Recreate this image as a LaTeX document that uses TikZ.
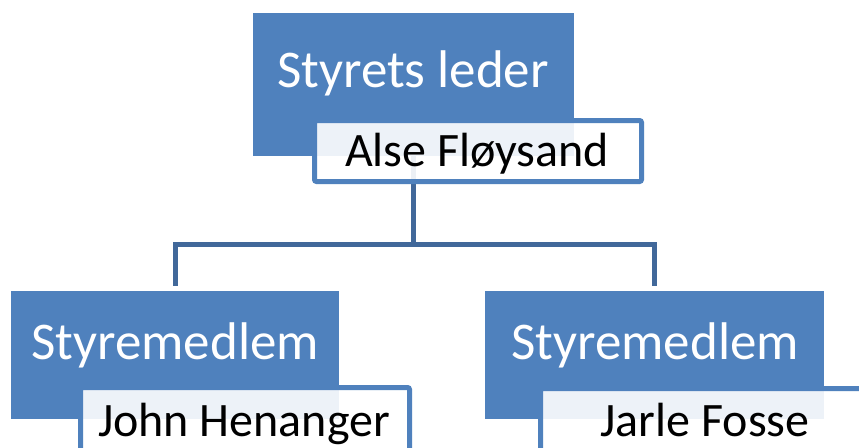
\documentclass[tikz,border=0pt]{standalone}
\usepackage{fontspec}
\setmainfont{Carlito}
\definecolor{boxblue}{HTML}{4F81BD}
\definecolor{connblue}{HTML}{41689A}
\tikzset{
  rolebox/.style={rectangle, draw=none, fill=boxblue, inner sep=0pt},
  namebox/.style={rectangle, draw=boxblue, line width=5pt, fill=white, fill opacity=0.9, draw opacity=1, rounded corners=2pt, inner sep=0pt},
  roletext/.style={anchor=base, text=white, font=\fontsize{53}{60}\selectfont, inner sep=0pt},
  nametext/.style={anchor=base, text=black, font=\fontsize{48}{56}\selectfont, inner sep=0pt},
  conn/.style={draw=connblue, line width=5pt, line join=miter}
}
\begin{document}
\begin{tikzpicture}[x=1pt, y=-1pt]
\clip (0,0) rectangle (859,447);
\fill[white] (0,0) rectangle (859,447);
% role boxes
\node[rolebox, minimum width=321pt, minimum height=143pt] (top) at (413.5,84.5) {};
\node[rolebox, minimum width=328pt, minimum height=128pt] (left) at (175,355) {};
\node[rolebox, minimum width=339pt, minimum height=128pt] (right) at (654.5,355) {};
% connectors
\draw[conn] (top.south) -- ++(0,88.5) coordinate (hub);
\draw[conn] ([yshift=5pt]left.north) |- (hub) -| ([yshift=5pt]right.north);
% name boxes
\node[namebox, minimum width=327pt, minimum height=61pt] (topname) at (478,151) {};
\node[namebox, minimum width=329pt, minimum height=64pt] (leftname) at (245,419.5) {};
\node[namebox, minimum width=329pt, minimum height=64pt] (rightname) at (705,420.5) {};
% texts
\node[roletext] (toplabel) at (413,87) {Styrets leder};
\node[nametext] (topnamelabel) at (477,166) {Alse Fløysand};
\node[roletext] (leftlabel) at (175,359) {Styremedlem};
\node[nametext] (leftnamelabel) at (244,436) {John Henanger};
\node[roletext] (rightlabel) at (655,359) {Styremedlem};
\node[nametext] (rightnamelabel) at (705,436) {Jarle Fosse};
\end{tikzpicture}
\end{document}
